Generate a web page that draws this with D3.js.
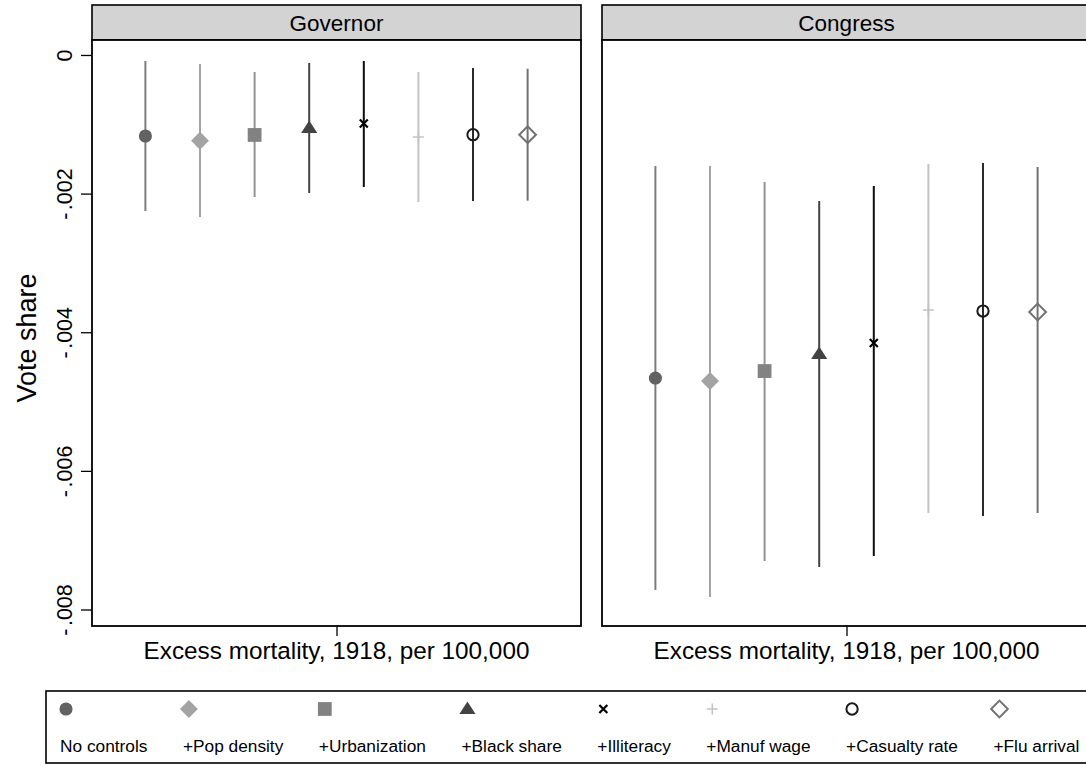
<!DOCTYPE html>
<html><head><meta charset="utf-8">
<script src="https://cdn.jsdelivr.net/npm/d3@7"></script>
<style>
html,body{margin:0;padding:0;background:#fff;}
svg{display:block;font-family:"Liberation Sans",Arial,Helvetica,sans-serif;}
</style></head>
<body>
<svg id="chart" width="1086" height="766"></svg>
<script>
// ---- data ----
const models = ["No controls","+Pop density","+Urbanization","+Black share","+Illiteracy","+Manuf wage","+Casualty rate","+Flu arrival"];
const panels = ["Governor","Congress"];
const govEst = [-0.001169,-0.001237,-0.001154,-0.001053,-0.000988,-0.001183,-0.001150,-0.001150];
const govLo  = [-0.002251,-0.002338,-0.002049,-0.001991,-0.001905,-0.002121,-0.002107,-0.002102];
const govHi  = [-0.000087,-0.000130,-0.000245,-0.000115,-0.000087,-0.000245,-0.000188,-0.000198];
const congEst = [-0.004661,-0.004704,-0.004560,-0.004315,-0.004156,-0.003680,-0.003694,-0.003708];
const congLo  = [-0.007720,-0.007821,-0.007302,-0.007388,-0.007229,-0.006609,-0.006652,-0.006609];
const congHi  = [-0.001602,-0.001602,-0.001833,-0.002107,-0.001890,-0.001573,-0.001558,-0.001616];
const yTicks = [0,-0.002,-0.004,-0.006,-0.008];
const yTickLabels = ["0","-.002","-.004","-.006","-.008"];
const xLabel = "Excess mortality, 1918, per 100,000";
const yLabel = "Vote share";

// ---- styles ----
const markerFill  = ["#626262","#a3a3a3","#828282","#434343","none","none","none","none"];
const markerStroke= ["none","none","none","none","#000","#c4c4c4","#1a1a1a","#727272"];
const lineColor   = ["#7c7c7c","#a3a3a3","#939393","#434343","#0d0d0d","#c4c4c4","#2a2a2a","#727272"];

const diamondSym = {draw(ctx,size){const r=Math.sqrt(size)/2*1.41421;ctx.moveTo(0,-r);ctx.lineTo(r,0);ctx.lineTo(0,r);ctx.lineTo(-r,0);ctx.closePath();}};
const xSym = {draw(ctx,size){const r=Math.sqrt(size)/2;ctx.moveTo(-r,-r);ctx.lineTo(r,r);ctx.moveTo(-r,r);ctx.lineTo(r,-r);}};
const plusSym = {draw(ctx,size){const r=Math.sqrt(size)/2;ctx.moveTo(-r,0);ctx.lineTo(r,0);ctx.moveTo(0,-r);ctx.lineTo(0,r);}};
const triSym = {draw(ctx,size){const w=Math.sqrt(size);const h=w*0.78;ctx.moveTo(0,-h*0.6);ctx.lineTo(w/2,h*0.4);ctx.lineTo(-w/2,h*0.4);ctx.closePath();}};
const symTypes = [d3.symbolCircle, diamondSym, d3.symbolSquare, triSym, xSym, plusSym, d3.symbolCircle, diamondSym];
const symSizes = [135, 160, 190, 260, 64, 120, 100, 140];
const symStrokeW = [0,0,0,0,2.2,1.6,2,2];

const svg = d3.select("#chart");
svg.append("rect").attr("width",1086).attr("height",766).attr("fill","#fff");

const panelW = 489, panelGap = 21, left0 = 92;
const headTop = 5, plotTop = 40, plotBot = 626;

const y = d3.scaleLinear().domain([-0.008238, 0.000216]).range([plotBot, plotTop]);
const x = d3.scalePoint().domain(models).range([0, panelW]).padding(0.978);

const data = [
  models.map((m,i)=>({m,i,est:govEst[i],lo:govLo[i],hi:govHi[i]})),
  models.map((m,i)=>({m,i,est:congEst[i],lo:congLo[i],hi:congHi[i]}))
];

panels.forEach((p,pi)=>{
  const gx = left0 + pi*(panelW+panelGap);
  const g = svg.append("g").attr("transform",`translate(${gx},0)`);
  // header
  g.append("rect").attr("x",0).attr("y",headTop).attr("width",panelW).attr("height",plotTop-headTop)
    .attr("fill","#d3d3d3").attr("stroke","#000").attr("stroke-width",1.6);
  g.append("text").attr("x",panelW/2).attr("y",(headTop+plotTop)/2+8).attr("text-anchor","middle")
    .attr("font-size",22.5).attr("fill","#000").text(p);
  // plot box
  g.append("rect").attr("x",0).attr("y",plotTop).attr("width",panelW).attr("height",plotBot-plotTop)
    .attr("fill","#fff").attr("stroke","#000").attr("stroke-width",1.8);
  // spikes
  g.selectAll("line.ci").data(data[pi]).join("line").attr("class","ci")
    .attr("x1",d=>x(d.m)).attr("x2",d=>x(d.m)).attr("y1",d=>y(d.hi)).attr("y2",d=>y(d.lo))
    .attr("stroke",d=>lineColor[d.i]).attr("stroke-width",2);
  // markers
  g.selectAll("path.pt").data(data[pi]).join("path").attr("class","pt")
    .attr("transform",d=>`translate(${x(d.m)},${y(d.est)})`)
    .attr("d",d=>d3.symbol().type(symTypes[d.i]).size(symSizes[d.i])())
    .attr("fill",d=>markerFill[d.i]).attr("stroke",d=>markerStroke[d.i]).attr("stroke-width",d=>symStrokeW[d.i]);
  // x axis tick
  const xa = d3.scaleLinear().domain([0,1]).range([0,panelW]);
  const xAxis = g.append("g").attr("transform",`translate(0,${plotBot})`)
    .call(d3.axisBottom(xa).tickValues([0.5]).tickFormat("").tickSize(10).tickSizeOuter(0));
  xAxis.select(".domain").remove();
  xAxis.selectAll("line").attr("stroke","#000").attr("stroke-width",1.3);
  g.append("text").attr("x",panelW/2).attr("y",659).attr("text-anchor","middle")
    .attr("font-size",24.3).attr("fill","#000").text(xLabel);
  if(pi===0){
    const ya = g.append("g").call(d3.axisLeft(y).tickValues(yTicks).tickFormat("").tickSize(11).tickPadding(0));
    ya.select(".domain").remove();
    ya.selectAll("line").attr("stroke","#000").attr("stroke-width",1.3);
    ya.selectAll(".tick").each(function(d,i){
      const lab = yTickLabels[i];
      const t = d3.select(this).select("text")
        .attr("font-size",21.5).attr("fill","#000").attr("font-family","Liberation Sans, Arial, sans-serif")
        .attr("text-anchor","middle").attr("dy",0).attr("x",0).attr("y",0)
        .attr("transform","translate(-20,0) rotate(-90)");
      t.text(null);
      if(lab.startsWith("-")){
        t.append("tspan").text("-");
        t.append("tspan").attr("dx",2.5).text(lab.slice(1));
      } else t.text(lab);
    });
    g.append("text").attr("transform",`translate(-56,${(plotTop+plotBot)/2+5}) rotate(-90)`)
      .attr("text-anchor","middle").attr("font-size",27).attr("fill","#000").text(yLabel);
  }
});

// ---- legend ----
const lg = svg.append("g");
lg.append("rect").attr("x",46).attr("y",691).attr("width",1060).attr("height",72)
  .attr("fill","#fff").attr("stroke","#000").attr("stroke-width",1.6);
let cx = 60;
models.forEach((m,i)=>{
  const t = lg.append("text").attr("x",cx).attr("y",752).attr("font-size",17.3).attr("fill","#000").text(m);
  lg.append("path").attr("transform",`translate(${cx+6},709)`)
    .attr("d",d3.symbol().type(symTypes[i]).size(symSizes[i])())
    .attr("fill",markerFill[i]).attr("stroke",markerStroke[i]).attr("stroke-width",symStrokeW[i]);
  cx += t.node().getComputedTextLength() + 35.5;
});
</script>
</body></html>
